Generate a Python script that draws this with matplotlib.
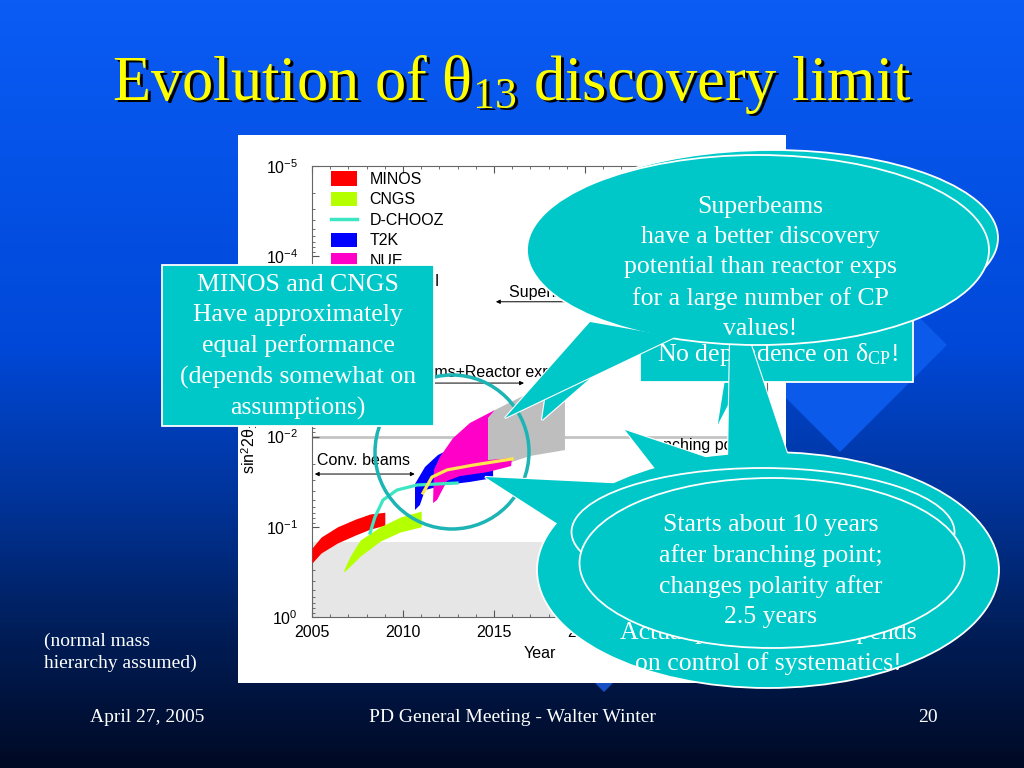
import numpy as np
import matplotlib
matplotlib.use('Agg')
import matplotlib.pyplot as plt
from matplotlib.patches import Rectangle, Ellipse, Polygon, Circle, Patch
from matplotlib.lines import Line2D
from matplotlib.colors import LinearSegmentedColormap
from matplotlib.ticker import MultipleLocator

plt.rcParams['font.family'] = 'Liberation Sans'
plt.rcParams['mathtext.fontset'] = 'custom'
plt.rcParams['mathtext.rm'] = 'Liberation Serif'
plt.rcParams['mathtext.it'] = 'Liberation Serif:italic'

# ---- data (year, sin^2 2theta13 limit) ----
minos_year = [2005.0, 2005.5, 2006.4, 2007.4, 2008.2, 2009.0]
minos_lo = [0.172, 0.130, 0.100, 0.082, 0.072, 0.069]
minos_hi = [0.252, 0.195, 0.151, 0.123, 0.106, 0.096]

cngs_year = [2006.75, 2007.1, 2007.65, 2008.75, 2009.85, 2011.0]
cngs_lo = [0.300, 0.211, 0.140, 0.100, 0.078, 0.067]
cngs_hi = [0.317, 0.272, 0.211, 0.144, 0.114, 0.100]

t2k_year = [2010.66, 2010.66, 2011.21, 2011.92, 2012.47, 2013.68, 2014.95,
            2014.95, 2013.68, 2012.31, 2011.21, 2010.93]
t2k_val = [0.065, 0.0335, 0.0217, 0.0160, 0.0141, 0.0160, 0.0223,
           0.0288, 0.0318, 0.0344, 0.0391, 0.0573]

nue_year = [2011.65, 2011.70, 2012.03, 2012.75, 2013.68, 2015.05, 2014.67,
            2014.67, 2015.99, 2015.94, 2014.67, 2013.13, 2012.42, 2011.87]
nue_val = [0.0545, 0.0234, 0.0168, 0.0104, 0.00706, 0.00507, 0.00622,
           0.0182, 0.0173, 0.0212, 0.0247, 0.0274, 0.0310, 0.0505]

upgrade_year = [2014.67, 2015.05, 2016.70, 2018.90, 2018.90, 2016.98, 2014.67]
upgrade_val = [0.00622, 0.00507, 0.00346, 0.00329, 0.0141, 0.0164, 0.0234]

dchooz_year = [2008.19, 2008.46, 2008.90, 2009.67, 2010.77, 2012.97]
dchooz_val = [0.117, 0.0778, 0.0505, 0.0391, 0.0344, 0.0327]

reactor2_year = [2011.10, 2011.59, 2012.42, 2013.85, 2015.99]
reactor2_val = [0.0422, 0.0281, 0.0234, 0.0207, 0.0177]

chooz_bound = 0.147
year_ticks = [2005, 2010, 2015, 2020, 2025, 2030]

legend_labels = ['MINOS', 'CNGS', 'D-CHOOZ', 'T2K', 'NUE', 'Reactor-II']

title_text = 'Evolution of θ$_{\\mathrm{13}}$ discovery limit'
box_minos = 'MINOS and CNGS\nHave approximately\nequal performance\n(depends somewhat on\nassumptions)'
box_cp = 'No dependence on δ$_{\\mathrm{CP}}$!'
bubble_sb = 'Superbeams\nhave a better discovery\npotential than reactor exps\nfor a large number of CP\nvalues!'
bubble_sys = 'Actual performance depends\non control of systematics!'
bubble_start = 'Starts about 10 years\nafter branching point;\nchanges polarity after\n2.5 years'

CYAN = '#00C8C8'
SERIF = 'Liberation Serif'

fig = plt.figure(figsize=(10.24, 7.68), dpi=100)

# ---- slide background ----
bg = fig.add_axes([0, 0, 1, 1], zorder=0)
grad = LinearSegmentedColormap.from_list(
    'slide', [(0, '#0A5CF5'), (0.45, '#0048D8'), (0.65, '#00349A'),
              (0.82, '#001E5A'), (1, '#000A24')])
bg.imshow(np.linspace(0, 1, 256).reshape(-1, 1), cmap=grad, aspect='auto',
          extent=(0, 1024, 768, 0))
bg.set_xlim(0, 1024)
bg.set_ylim(768, 0)
bg.axis('off')
bg.add_patch(Polygon([(840, 238), (947, 345), (840, 452), (733, 345)],
                     fc='#0C5AEA', ec='none', zorder=1))
bg.add_patch(Polygon([(604, 488), (706, 590), (604, 692), (502, 590)],
                     fc='#1450C4', ec='none', zorder=1))
bg.add_patch(Rectangle((238, 135), 548, 548, fc='white', ec='none', zorder=2))

for dx, col in [(3, 'black'), (0, '#FFFF00')]:
    bg.text(512 + dx, 84 + dx, title_text, ha='center', va='center',
            fontsize=45, color=col, family=SERIF, zorder=3)

bg.text(44, 652, '(normal mass\nhierarchy assumed)', ha='left', va='center',
        fontsize=14, color='white', family=SERIF, linespacing=1.35)
bg.text(147, 718, 'April 27, 2005', ha='center', va='center', fontsize=14,
        color='white', family=SERIF)
bg.text(512, 718, 'PD General Meeting - Walter Winter', ha='center',
        va='center', fontsize=14, color='white', family=SERIF)
bg.text(928, 718, '20', ha='center', va='center', fontsize=14,
        color='white', family=SERIF)

# ---- embedded physics plot ----
ax = fig.add_axes([312 / 1024, 1 - 617 / 768, 455 / 1024, 451 / 768], zorder=1)
ax.set_yscale('log')
ax.set_xlim(2005, 2030)
ax.set_ylim(1, 1e-5)
ax.axhspan(chooz_bound, 1, color='#E6E6E6', lw=0, zorder=0)
ax.axhline(0.01, color='#C4C4C4', lw=2, zorder=1)
ax.fill(upgrade_year, upgrade_val, color='#BEBEBE', lw=0, zorder=2)
ax.fill_between(minos_year, minos_lo, minos_hi, color='#FF0000', lw=0, zorder=3)
ax.fill_between(cngs_year, cngs_lo, cngs_hi, color='#B4FF00', lw=0, zorder=3)
ax.fill(t2k_year, t2k_val, color='#0000FF', lw=0, zorder=3)
ax.fill(nue_year, nue_val, color='#FF00C8', lw=0, zorder=4)
ax.plot(dchooz_year, dchooz_val, color='#3CE6C3', lw=2.3, zorder=5)
ax.plot(reactor2_year, reactor2_val, color='#FFE650', lw=2.3, zorder=6)

arrow = dict(arrowstyle='<|-|>', mutation_scale=6, lw=0.7, color='black')
ax.annotate('', xy=(2005.0, 0.026), xytext=(2010.8, 0.026), arrowprops=arrow)
ax.text(2005.3, 0.0185, 'Conv. beams', fontsize=11.5, va='center')
ax.annotate('', xy=(2010.7, 0.00255), xytext=(2016.8, 0.00255), arrowprops=arrow)
ax.text(2007.9, 0.00195, 'Superbeams+Reactor exps', fontsize=11.5, va='center')
ax.annotate('', xy=(2014.95, 0.00032), xytext=(2029.5, 0.00032), arrowprops=arrow)
ax.text(2015.8, 0.00025, 'Superbeam upgrades', fontsize=11.5, va='center')
ax.text(2023.0, 0.0124, 'branching point', fontsize=11.5, va='center')

colors = ['#FF0000', '#B4FF00', '#3CE6C3', '#0000FF', '#FF00C8', '#FFE650']
handles = []
for lab, col in zip(legend_labels, colors):
    if lab in ('D-CHOOZ', 'Reactor-II'):
        handles.append(Line2D([], [], color=col, lw=2.5, label=lab))
    else:
        handles.append(Patch(fc=col, ec='none', label=lab))
ax.legend(handles=handles, loc='upper left', bbox_to_anchor=(0.035, 0.995),
          frameon=False, fontsize=11.5, handlelength=1.6, handleheight=1.0,
          handletextpad=0.8, labelspacing=0.3, borderaxespad=0, borderpad=0.2)

ax.set_xticks(year_ticks)
ax.set_xticklabels([str(y) for y in year_ticks])
ax.xaxis.set_minor_locator(MultipleLocator(1))
ax.tick_params(which='both', direction='in', top=True, right=True,
               labelsize=11.5, colors='#555555', labelcolor='black')
ax.tick_params(which='major', length=5)
ax.tick_params(which='minor', length=2.5)
ax.tick_params(axis='y', pad=10)
ax.tick_params(axis='x', pad=6)
for s in ax.spines.values():
    s.set_color('#666666')
    s.set_linewidth(0.8)
ax.set_xlabel('Year', fontsize=11.5, labelpad=4)
ax.set_ylabel('sin$^{\\mathdefault{2}}$2θ$_{\\mathdefault{13}}$ discovery limit',
              fontsize=11.5, labelpad=4)

# ---- overlay: boxes and callouts ----
ov = fig.add_axes([0, 0, 1, 1], zorder=2)
ov.patch.set_alpha(0)
ov.set_xlim(0, 1024)
ov.set_ylim(768, 0)
ov.axis('off')

z = [1]


def nz():
    z[0] += 1
    return z[0]


def bubble(center, w, h, wedges):
    for wd in wedges:
        ov.add_patch(Polygon(wd, fc=CYAN, ec='white', lw=1.6, zorder=nz()))
    ov.add_patch(Ellipse(center, w, h, fc=CYAN, ec='white', lw=1.3, zorder=nz()))
    for wd in wedges:
        ov.add_patch(Polygon(wd, fc=CYAN, ec='none', zorder=nz()))


def label(x, y, s, size=18.5):
    ov.text(x, y, s, ha='center', va='center', color='white', family=SERIF,
            fontsize=size, linespacing=1.47, zorder=nz())


ov.add_patch(Circle((452, 452), 77, fill=False, ec='#1CB4B4', lw=2.5, zorder=nz()))

ov.add_patch(Rectangle((162, 265), 272, 161, fc=CYAN, ec='white', lw=1.3, zorder=nz()))
label(298, 347, box_minos)

ov.add_patch(Polygon([(716, 430), (724, 380), (742, 380)], fc=CYAN, ec='white',
                     lw=1.3, zorder=nz()))
ov.add_patch(Rectangle((640, 300), 273, 82, fc=CYAN, ec='white', lw=1.3, zorder=nz()))
label(777, 355, box_cp)

# lower callout group
bubble((768, 570), 462, 236,
       [[(485, 477), (575, 535), (650, 485)],
        [(625, 430), (660, 475), (720, 462)],
        [(731, 285), (728, 462), (790, 462)]])
label(768, 648, bubble_sys)
bubble((763, 532), 383, 128, [])
bubble((772, 563), 385, 170, [])
label(771, 571, bubble_start)

# upper callout group
bubble((772, 238), 452, 176, [[(542, 420), (548, 380), (640, 335)]])
bubble((758, 250), 462, 190, [[(505, 418), (590, 322), (675, 337)]])
label(760, 268, bubble_sb)

fig.savefig('out.png', dpi=100)
